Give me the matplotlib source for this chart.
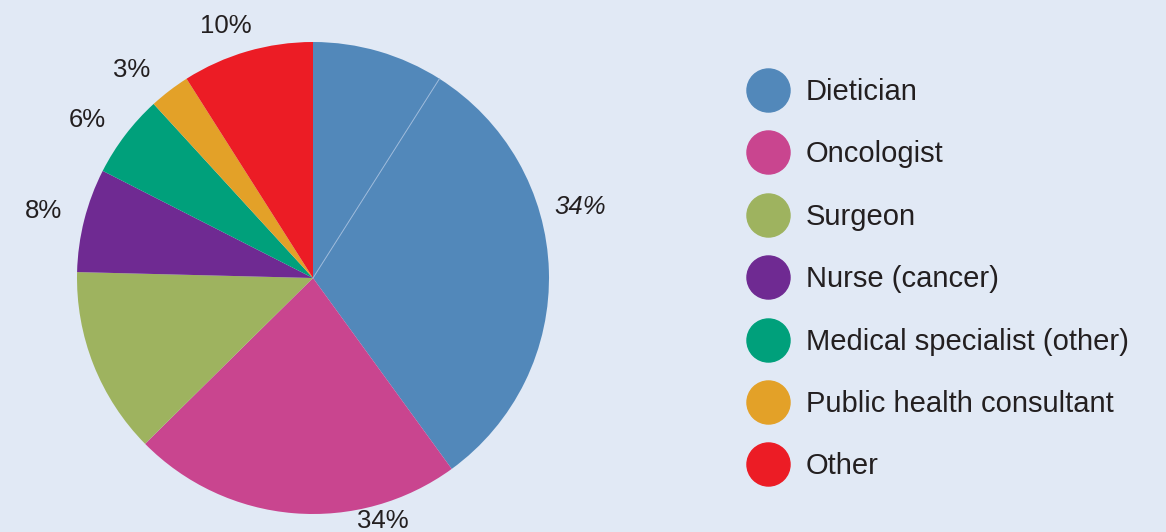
import numpy as np
import matplotlib
matplotlib.use("Agg")
import matplotlib.pyplot as plt

# ---- data ----
slice_names = ["Dietician", "Dietician", "Oncologist", "Surgeon", "Nurse (cancer)",
               "Medical specialist (other)", "Public health consultant", "Other"]
slice_values = [9.0, 31.0, 22.6, 12.8, 7.1, 5.7, 2.8, 9.0]
slice_labels = ["", "34%", "34%", "", "8%", "6%", "3%", "10%"]
legend_names = ["Dietician", "Oncologist", "Surgeon", "Nurse (cancer)",
                "Medical specialist (other)", "Public health consultant", "Other"]

# ---- style ----
colors_by_name = {
    "Dietician": "#5288ba",
    "Oncologist": "#c9458f",
    "Surgeon": "#9eb35f",
    "Nurse (cancer)": "#6f2a92",
    "Medical specialist (other)": "#00a07b",
    "Public health consultant": "#e3a128",
    "Other": "#ec1c25",
}
bg = "#e1e9f5"
text_color = "#231f20"
# label placement (degrees clockwise from top, radial distance in radii)
label_angles = [None, 75, 164, None, 284, 305, 319, 341]
label_dists = [None, 1.17, 1.07, None, 1.175, 1.17, 1.17, 1.13]
label_styles = [None, "italic", "normal", None, "normal", "normal", "normal", "normal"]

plt.rcParams["font.family"] = ["Liberation Sans", "DejaVu Sans"]

W, H = 1166, 532
fig = plt.figure(figsize=(W / 100, H / 100), dpi=100, facecolor=bg)

cx, cy, r = 313, 278, 236
ax = fig.add_axes([(cx - r) / W, (H - cy - r) / H, 2 * r / W, 2 * r / H])
ax.set_facecolor(bg)
cols = [colors_by_name[n] for n in slice_names]
wedges, _ = ax.pie(slice_values, colors=cols, startangle=90, counterclock=False,
                   radius=1.0, wedgeprops=dict(linewidth=0), frame=False)
ax.set_xlim(-1, 1)
ax.set_ylim(-1, 1)
ax.set_aspect("equal")
ax.axis("off")

# faint divider between the two blue slices
th = np.deg2rad(wedges[0].theta1)
ax.plot([0, np.cos(th)], [0, np.sin(th)], color="#9bb9da", lw=0.7)

for lab, ang, d, st in zip(slice_labels, label_angles, label_dists, label_styles):
    if not lab:
        continue
    a = np.deg2rad(90 - ang)
    ax.text(d * np.cos(a), d * np.sin(a), lab, ha="center", va="center",
            fontsize=18.5, color=text_color, style=st, clip_on=False)

# legend
lx, ly0, dy = 768, 90, 62.4
for i, name in enumerate(legend_names):
    y = ly0 + i * dy
    fig.lines.append(plt.Line2D([lx / W], [1 - y / H], transform=fig.transFigure,
                                marker="o", markersize=31, color=colors_by_name[name],
                                linestyle="none"))
    fig.text((lx + 38) / W, 1 - (y + 2) / H, name, ha="left", va="center",
             fontsize=21, color=text_color)

fig.savefig("out.png", dpi=100, facecolor=bg)
